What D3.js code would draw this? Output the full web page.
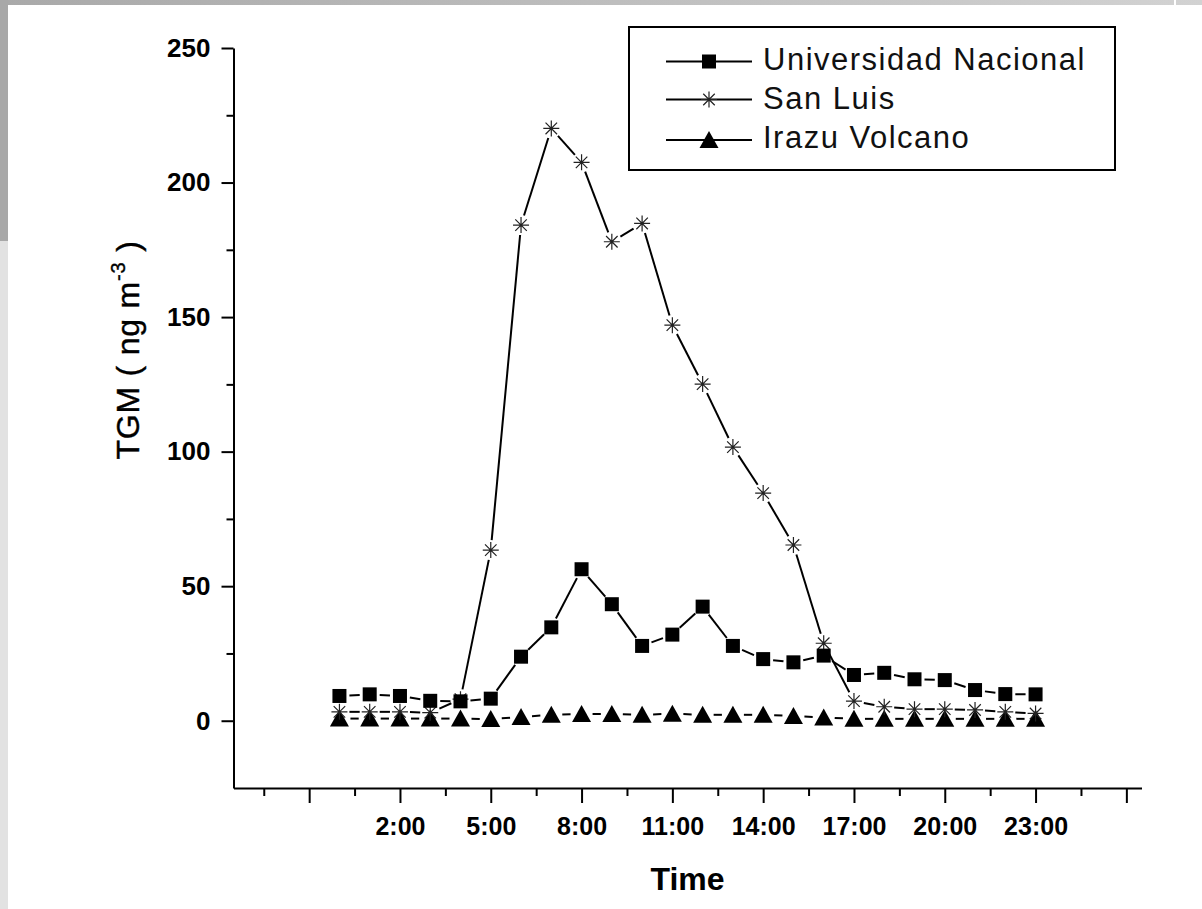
<!DOCTYPE html>
<html>
<head>
<meta charset="utf-8">
<script src="https://cdn.jsdelivr.net/npm/d3@7"></script>
<style>
  html, body { margin: 0; padding: 0; background: #fff; }
  svg { display: block; }
  text { font-family: "Liberation Sans", Arial, Helvetica, sans-serif; }
</style>
</head>
<body>
<svg id="chart" width="1202" height="909"></svg>
<script>
// Hour of day for each sample
const hours = [0, 1, 2, 3, 4, 5, 6, 7, 8, 9, 10, 11, 12, 13, 14, 15, 16, 17, 18, 19, 20, 21, 22, 23];

// Total gaseous mercury (ng m-3) per site
const universidadNacional = [9.2, 9.8, 9.2, 7.4, 7.2, 8.2, 23.8, 34.7, 56.3, 43.3, 27.8, 32.0, 42.4, 27.8, 22.9, 21.7, 24.2, 17.0, 17.8, 15.4, 15.1, 11.4, 9.9, 9.8];
const sanLuis = [3.3, 3.3, 3.3, 3.0, 8.0, 63.4, 184.2, 220.1, 207.5, 178.0, 184.8, 147.0, 125.1, 101.7, 84.6, 65.3, 28.8, 7.3, 5.2, 4.3, 4.3, 4.0, 3.3, 2.7];
const irazuVolcano = [0.8, 0.8, 0.8, 0.8, 0.8, 0.6, 1.4, 2.2, 2.5, 2.5, 2.2, 2.6, 2.2, 2.2, 2.2, 1.8, 1.2, 0.7, 0.7, 0.7, 0.7, 0.7, 0.7, 0.7];

const seriesNames = ["Universidad Nacional", "San Luis", "Irazu Volcano"];
const seriesSymbols = ["square", "asterisk", "triangle"];

// Axis ticks
const xMajorTicks = [-1, 2, 5, 8, 11, 14, 17, 20, 23, 26];
const xMinorTicks = [-2.5, 0.5, 3.5, 6.5, 9.5, 12.5, 15.5, 18.5, 21.5, 24.5];
const xTickLabels = ["", "2:00", "5:00", "8:00", "11:00", "14:00", "17:00", "20:00", "23:00", ""];
const yMajorTicks = [0, 50, 100, 150, 200, 250];
const yMinorTicks = [25, 75, 125, 175, 225];

const svg = d3.select("#chart");

// Page edge shading
const defs = svg.append("defs");
const grad = defs.append("linearGradient").attr("id", "topEdge")
  .attr("x1", "0%").attr("x2", "100%").attr("y1", "0%").attr("y2", "0%");
grad.append("stop").attr("offset", "0%").attr("stop-color", "#a9a9a9");
grad.append("stop").attr("offset", "100%").attr("stop-color", "#d2d2d2");
svg.append("rect").attr("x", 0).attr("y", 0).attr("width", 1202).attr("height", 5).attr("fill", "url(#topEdge)");
svg.append("rect").attr("x", 1174).attr("y", 0).attr("width", 2).attr("height", 5).attr("fill", "#fff");
svg.append("rect").attr("x", 0).attr("y", 0).attr("width", 8).attr("height", 241).attr("fill", "#a8a8a8");
svg.append("rect").attr("x", 0).attr("y", 241).attr("width", 8).attr("height", 668).attr("fill", "#e2e2e2");

// Scales
const x = d3.scaleLinear().domain([-3.5, 26.5]).range([233.5, 1141.5]);
const y = d3.scaleLinear().domain([-25, 250]).range([788, 48]);

// Axes
const axisStyle = g => {
  g.selectAll("path.domain").attr("stroke", "#000").attr("stroke-width", 2);
  g.selectAll(".tick line").attr("stroke", "#000").attr("stroke-width", 2);
};

svg.append("g").attr("transform", `translate(0,${y(-25)})`)
  .call(d3.axisBottom(x).tickValues(xMinorTicks).tickSize(8).tickSizeOuter(0).tickFormat(""))
  .call(g => g.select("path.domain").remove())
  .call(axisStyle);

const xAxis = svg.append("g").attr("transform", `translate(0,${y(-25)})`)
  .call(d3.axisBottom(x).tickValues(xMajorTicks).tickSize(15).tickSizeOuter(0)
    .tickPadding(14)
    .tickFormat((d, i) => xTickLabels[i]))
  .call(axisStyle);
xAxis.selectAll(".tick text")
  .attr("font-size", 25).attr("font-weight", "bold").attr("fill", "#000")
  .attr("font-family", "'Liberation Sans', Arial, sans-serif");

svg.append("g").attr("transform", `translate(${x(-3.5)},0)`)
  .call(d3.axisLeft(y).tickValues(yMinorTicks).tickSize(7).tickSizeOuter(0).tickFormat(""))
  .call(g => g.select("path.domain").remove())
  .call(axisStyle);

const yAxis = svg.append("g").attr("transform", `translate(${x(-3.5)},0)`)
  .call(d3.axisLeft(y).tickValues(yMajorTicks).tickSize(12).tickSizeOuter(0).tickPadding(11))
  .call(axisStyle);
yAxis.selectAll(".tick text")
  .attr("font-size", 26).attr("font-weight", "bold").attr("fill", "#000")
  .attr("font-family", "'Liberation Sans', Arial, sans-serif");

// Axis titles
svg.append("text")
  .attr("x", (x(-3.5) + x(26.5)) / 2).attr("y", 890)
  .attr("text-anchor", "middle")
  .attr("font-size", 32).attr("font-weight", "bold")
  .text("Time");

const yTitle = svg.append("text")
  .attr("transform", "translate(139,350) rotate(-90)")
  .attr("text-anchor", "middle")
  .attr("font-size", 32)
  .attr("letter-spacing", 0.8)
  .attr("stroke", "#000").attr("stroke-width", 0.4);
yTitle.append("tspan").text("TGM ( ng m");
yTitle.append("tspan").attr("font-size", 20).attr("dy", -14).text("-3");
yTitle.append("tspan").attr("dy", 14).text(" )");

// Marker drawing
function drawMarker(g, type, cx, cy) {
  if (type === "square") {
    g.append("rect").attr("x", cx - 7).attr("y", cy - 7).attr("width", 14).attr("height", 14)
      .attr("fill", "#000");
  } else if (type === "triangle") {
    g.append("path")
      .attr("d", `M${cx},${cy - 9} L${cx + 9.5},${cy + 8} L${cx - 9.5},${cy + 8} Z`)
      .attr("fill", "#000");
  } else {
    const r = 8, d = r * 0.72;
    const p = `M${cx - r},${cy}L${cx + r},${cy}M${cx},${cy - r}L${cx},${cy + r}` +
      `M${cx - d},${cy - d}L${cx + d},${cy + d}M${cx - d},${cy + d}L${cx + d},${cy - d}`;
    g.append("path").attr("d", p).attr("stroke", "#222").attr("stroke-width", 1.2).attr("fill", "none");
  }
}

const gapBySymbol = { square: 10, asterisk: 10, triangle: 11 };

function drawSeries(values, type) {
  const g = svg.append("g");
  const pts = hours.map((h, i) => [x(h), y(values[i])]);
  const gap = gapBySymbol[type];
  // connecting segments, stopping short of each marker
  for (let i = 0; i < pts.length - 1; i++) {
    const [x0, y0] = pts[i], [x1, y1] = pts[i + 1];
    const len = Math.hypot(x1 - x0, y1 - y0);
    if (len <= 2 * gap) continue;
    const ux = (x1 - x0) / len, uy = (y1 - y0) / len;
    g.append("line")
      .attr("x1", x0 + ux * gap).attr("y1", y0 + uy * gap)
      .attr("x2", x1 - ux * gap).attr("y2", y1 - uy * gap)
      .attr("stroke", "#000").attr("stroke-width", 2);
  }
  pts.forEach(([px, py]) => drawMarker(g, type, px, py));
}

drawSeries(irazuVolcano, "triangle");
drawSeries(sanLuis, "asterisk");
drawSeries(universidadNacional, "square");

// Legend
const legend = svg.append("g");
legend.append("rect").attr("x", 629).attr("y", 27).attr("width", 486).attr("height", 143)
  .attr("fill", "#fff").attr("stroke", "#000").attr("stroke-width", 2);
const rowY = [61.5, 99.5, 140];
const rowBaseline = [69.5, 108.5, 148];
seriesNames.forEach((name, i) => {
  const ly = rowY[i];
  legend.append("line").attr("x1", 666).attr("x2", 752).attr("y1", ly).attr("y2", ly)
    .attr("stroke", "#000").attr("stroke-width", 2);
  drawMarker(legend, seriesSymbols[i], 709, ly);
  legend.append("text").attr("x", 763).attr("y", rowBaseline[i])
    .attr("font-size", 31).attr("letter-spacing", 1.5).attr("fill", "#111")
    .text(name);
});
</script>
</body>
</html>
